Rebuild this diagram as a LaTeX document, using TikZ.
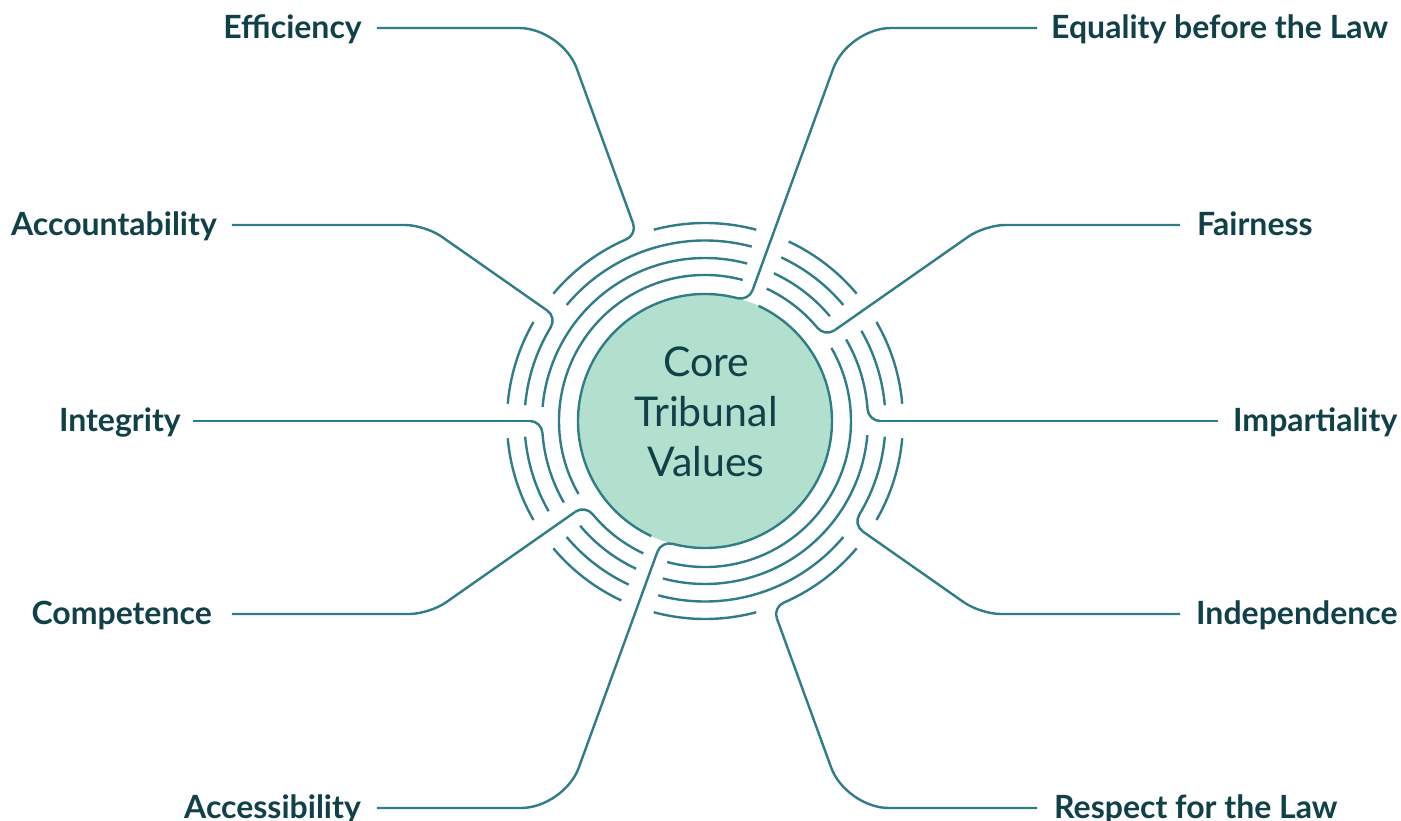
\documentclass[tikz,border=0pt]{standalone}
\usepackage{fontspec}
\setmainfont{Lato}
\definecolor{ringline}{RGB}{46,125,135}
\definecolor{discfill}{RGB}{179,223,207}
\definecolor{inktext}{RGB}{16,64,72}

% one arc of a ring, counter-clockwise from #1 to #2 at radius #3
\newcommand\ringarc[3]{\draw[link] (#1:#3) arc[start angle=#1, end angle=#2, radius=#3];}
% the hook that turns a spoke (ending at coordinate #1, angle #2) into ring #3, running on to angle #4
\newcommand\hookpath[4]{%
  \pgfmathsetmacro\hkphi{12/#3*180/pi}%
  \pgfmathsetmacro\hkc{#2+0.448*\hkphi}%
  \pgfmathsetmacro\hka{#2+\hkphi}%
  \pgfmathsetmacro\hkr{#3+5.4}%
  \draw[link] (#1) .. controls (#2:\hkr) and (\hkc:#3) .. (\hka:#3)
    arc[start angle=\hka, end angle=#4, radius=#3];}

\begin{document}
\begin{tikzpicture}[x=1pt,y=1pt,
  link/.style={draw=ringline, line width=2.4pt},
  lbl/.style={font=\bfseries\fontsize{32}{38}\selectfont, text=inktext, inner sep=0pt},
  centre/.style={font=\fontsize{41}{50}\selectfont, text=inktext, align=center, inner sep=0pt}]
\useasboundingbox (-705,-400) rectangle (696,421);

% radii: disc, rings 1..4
\def\rC{127}\def\rA{146}\def\rB{163}\def\rD{180.5}\def\rE{198}

% central disc
\fill[discfill] (0,0) circle (\rC);
\node[centre] (core) at (1,9) {Core\\Tribunal\\Values};

% ---- label line ends, corners and spoke ends
\coordinate (eff-s) at (-328,393);  \coordinate (eff-p) at (-143,393);  \coordinate (eff-h) at (110:210);
\coordinate (equ-s) at (332,393);   \coordinate (equ-p) at (143,393);   \coordinate (equ-h) at (70:139);
\coordinate (acc-s) at (-473,196);  \coordinate (acc-p) at (-280,196);  \coordinate (acc-h) at (145:192.5);
\coordinate (fai-s) at (475,196);   \coordinate (fai-p) at (280,196);   \coordinate (fai-h) at (35:158);
\coordinate (int-s) at (-512,0);    \coordinate (int-h) at (180:175);
\coordinate (imp-s) at (513,0);     \coordinate (imp-h) at (0:175);
\coordinate (com-s) at (-473,-193); \coordinate (com-p) at (-275.6,-193); \coordinate (com-h) at (215:158);
\coordinate (ind-s) at (475,-193);  \coordinate (ind-p) at (275.6,-193);  \coordinate (ind-h) at (325:192.5);
\coordinate (acs-s) at (-328,-387); \coordinate (acs-p) at (-140.9,-387); \coordinate (acs-h) at (250:139);
\coordinate (res-s) at (332,-387);  \coordinate (res-p) at (140.9,-387);  \coordinate (res-h) at (290:210);

% ---- labels
\node[lbl, anchor=base east] (eff) at ([xshift=-15,yshift=-11]eff-s) {Efficiency};
\node[lbl, anchor=base west] (equ) at ([xshift=14,yshift=-11]equ-s) {Equality before the Law};
\node[lbl, anchor=base east] (acc) at ([xshift=-15,yshift=-11]acc-s) {Accountability};
\node[lbl, anchor=base west] (fai) at ([xshift=17,yshift=-11]fai-s) {Fairness};
\node[lbl, anchor=base east] (int) at ([xshift=-12,yshift=-11]int-s) {Integrity};
\node[lbl, anchor=base west] (imp) at ([xshift=15,yshift=-11]imp-s) {Impartiality};
\node[lbl, anchor=base east] (com) at ([xshift=-20,yshift=-11]com-s) {Competence};
\node[lbl, anchor=base west] (ind) at ([xshift=16,yshift=-11]ind-s) {Independence};
\node[lbl, anchor=base east] (acs) at ([xshift=-16,yshift=-11]acs-s) {Accessibility};
\node[lbl, anchor=base west] (res) at ([xshift=17,yshift=-11]res-s) {Respect for the Law};

% ---- spokes
\draw[link, rounded corners=43pt] (eff-s) -- (eff-p) -- (eff-h);
\draw[link, rounded corners=43pt] (equ-s) -- (equ-p) -- (equ-h);
\draw[link, rounded corners=20pt] (acc-s) -- (acc-p) -- (acc-h);
\draw[link, rounded corners=20pt] (fai-s) -- (fai-p) -- (fai-h);
\draw[link] (int-s) -- (int-h);
\draw[link] (imp-s) -- (imp-h);
\draw[link, rounded corners=20pt] (com-s) -- (com-p) -- (com-h);
\draw[link, rounded corners=20pt] (ind-s) -- (ind-p) -- (ind-h);
\draw[link, rounded corners=43pt] (acs-s) -- (acs-p) -- (acs-h);
\draw[link, rounded corners=43pt] (res-s) -- (res-p) -- (res-h);

% ---- hooks into the rings
\hookpath{equ-h}{70}{\rC}{245}
\hookpath{acs-h}{250}{\rC}{425}
\hookpath{fai-h}{35}{\rA}{65}
\hookpath{com-h}{215}{\rA}{245}
\hookpath{imp-h}{0}{\rB}{30}
\hookpath{int-h}{180}{\rB}{210}
\hookpath{acc-h}{145}{\rD}{175}
\hookpath{ind-h}{325}{\rD}{355}
\hookpath{eff-h}{110}{\rE}{140}
\hookpath{res-h}{290}{\rE}{320}

% ---- remaining ring arcs
\ringarc{75}{210}{\rA}
\ringarc{255}{390}{\rA}

\ringarc{40}{65}{\rB}
\ringarc{75}{175}{\rB}
\ringarc{220}{245}{\rB}
\ringarc{255}{355}{\rB}

\ringarc{5}{30}{\rD}
\ringarc{40}{65}{\rD}
\ringarc{75}{140}{\rD}
\ringarc{185}{210}{\rD}
\ringarc{220}{245}{\rD}
\ringarc{255}{320}{\rD}

\ringarc{5}{30}{\rE}
\ringarc{40}{65}{\rE}
\ringarc{75}{105}{\rE}
\ringarc{150}{175}{\rE}
\ringarc{185}{210}{\rE}
\ringarc{220}{245}{\rE}
\ringarc{255}{285}{\rE}
\ringarc{330}{355}{\rE}
\end{tikzpicture}
\end{document}
